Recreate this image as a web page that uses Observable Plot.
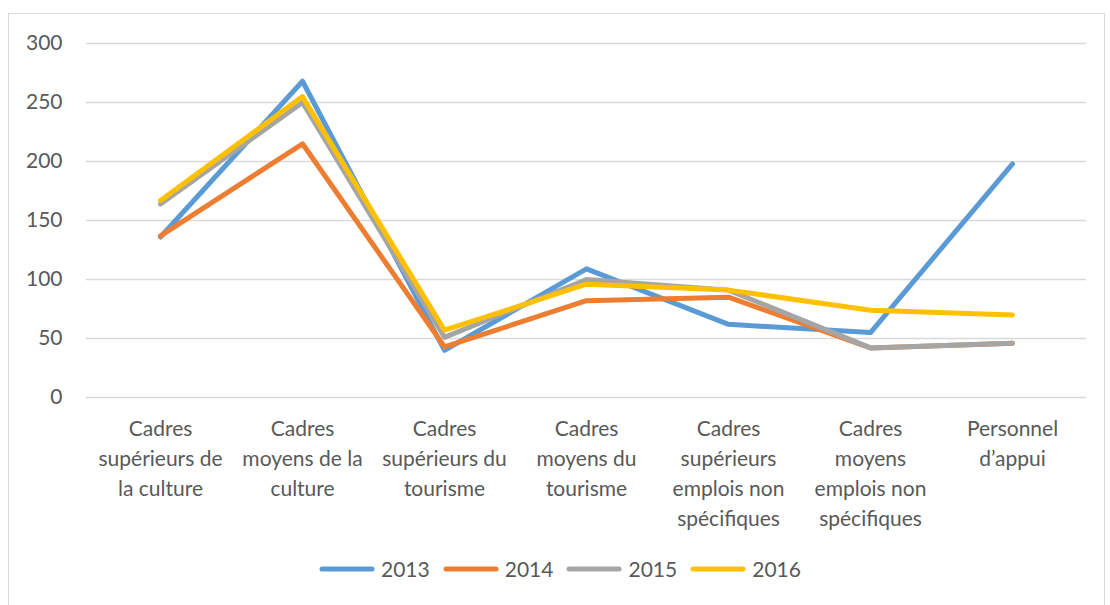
<!DOCTYPE html>
<html><head><meta charset="utf-8">
<script src="https://cdn.jsdelivr.net/npm/d3@7"></script>
<script src="https://cdn.jsdelivr.net/npm/@observablehq/plot@0.6"></script>
<style>
body{margin:0;background:#fff;font-family:Lato,sans-serif;color:#595959;}
#frame{position:absolute;left:8px;top:13px;width:1097px;height:600px;border:1.5px solid #d9d9d9;box-sizing:border-box;}
#chart{position:absolute;left:0;top:0;}
#legend{position:absolute;left:318px;top:556px;display:flex;align-items:center;font-size:21px;color:#595959;}
.item{display:flex;align-items:center;margin-right:12px;}
.item svg{margin-right:5px;}
</style></head>
<body>
<div id="frame"></div>
<div id="chart"></div>
<div id="legend"></div>
<script>
const categories = ["Cadres supérieurs de la culture","Cadres moyens de la culture","Cadres supérieurs du tourisme","Cadres moyens du tourisme","Cadres supérieurs emplois non spécifiques","Cadres moyens emplois non spécifiques","Personnel d’appui"];
const categoryLabels = ["Cadres\nsupérieurs de\nla culture","Cadres\nmoyens de la\nculture","Cadres\nsupérieurs du\ntourisme","Cadres\nmoyens du\ntourisme","Cadres\nsupérieurs\nemplois non\nspécifiques","Cadres\nmoyens\nemplois non\nspécifiques","Personnel\nd’appui"];
const years = ["2013","2014","2015","2016"];
const v2013 = [136,268,40,109,62,55,198];
const v2014 = [137,215,43,82,85,42,46];
const v2015 = [164,250,51,100,91,42,46];
const v2016 = [167,255,57,96,91,74,70];
const colors = ["#5B9BD5","#ED7D31","#A5A5A5","#FFC000"];
const yTicks = [0,50,100,150,200,250,300];

const series = [v2013,v2014,v2015,v2016];
const rows = [];
years.forEach((yr,j)=>categories.forEach((c,i)=>rows.push({year:yr,category:c,value:series[j][i]})));

const chart = Plot.plot({
  width:1110, height:540,
  marginLeft:86, marginRight:24, marginTop:43, marginBottom:143,
  style:{background:"transparent", color:"#595959", fontFamily:"Lato, sans-serif"},
  x:{type:"point", domain:categories, padding:0.5, label:null},
  y:{domain:[0,300], label:null},
  color:{domain:years, range:colors},
  marks:[
    Plot.gridY({ticks:yTicks, stroke:"#d9d9d9", strokeOpacity:1, strokeWidth:1.5}),
    Plot.axisY({ticks:yTicks, tickSize:0, tickPadding:24, fontSize:21, label:null}),
    Plot.axisX({tickSize:0, tickPadding:17, fontSize:21, lineHeight:1.43, label:null,
      tickFormat:d=>categoryLabels[categories.indexOf(d)]}),
    Plot.lineY(rows, {x:"category", y:"value", z:"year", stroke:"year", strokeWidth:5, strokeLinecap:"round", strokeLinejoin:"round"})
  ]
});
document.getElementById("chart").appendChild(chart);

const legend = document.getElementById("legend");
years.forEach((yr,j)=>{
  const it = document.createElement("div"); it.className="item";
  it.innerHTML = `<svg width="58" height="10"><line x1="4" y1="5" x2="54" y2="5" stroke="${colors[j]}" stroke-width="5" stroke-linecap="round"/></svg><span>${yr}</span>`;
  legend.appendChild(it);
});
</script>
</body></html>
